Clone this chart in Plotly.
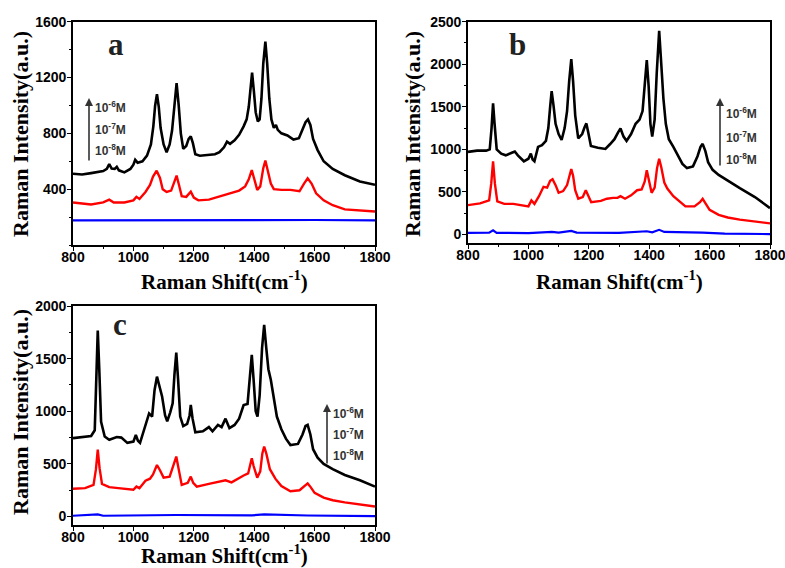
import plotly.graph_objects as go

# ---------------- data ----------------
A_BLACK_X = [800, 830, 860, 900, 912, 920, 928, 938, 945, 952, 970, 990, 1000, 1006, 1014, 1030, 1045, 1058, 1066, 1072, 1078, 1084, 1090, 1100, 1110, 1120, 1128, 1135, 1143, 1150, 1157, 1165, 1175, 1183, 1190, 1197, 1205, 1220, 1250, 1270, 1285, 1300, 1310, 1320, 1335, 1350, 1365, 1375, 1382, 1388, 1393, 1399, 1405, 1412, 1418, 1424, 1430, 1437, 1443, 1450, 1457, 1465, 1472, 1478, 1490, 1510, 1530, 1548, 1560, 1570, 1578, 1586, 1595, 1610, 1630, 1660, 1700, 1750, 1800]
A_BLACK_Y = [510, 505, 515, 530, 545, 580, 548, 545, 560, 535, 520, 545, 575, 610, 590, 600, 640, 720, 850, 1000, 1080, 990, 840, 720, 665, 720, 820, 1000, 1160, 1000, 800, 690, 710, 760, 778, 730, 650, 640, 645, 650, 665, 700, 740, 725, 750, 790, 850, 900, 990, 1150, 1235, 1100, 950, 885, 900, 1050, 1300, 1457, 1300, 1050, 900, 840, 860, 825, 800, 785, 755, 765, 830, 880, 900, 860, 760, 680, 600, 545, 500, 455, 432]

A_RED_X = [800, 830, 860, 900, 920, 935, 970, 1000, 1010, 1020, 1040, 1055, 1065, 1077, 1088, 1097, 1110, 1125, 1135, 1143, 1151, 1160, 1175, 1190, 1200, 1215, 1250, 1290, 1320, 1350, 1370, 1382, 1392, 1400, 1410, 1420, 1430, 1437, 1445, 1455, 1465, 1490, 1520, 1550, 1565, 1577, 1590, 1605, 1630, 1660, 1700, 1750, 1800]
A_RED_Y = [305, 300, 290, 305, 325, 305, 305, 320, 345, 330, 380, 430, 490, 532, 480, 400, 380, 390, 450, 497, 430, 350, 345, 382, 340, 320, 325, 350, 370, 390, 420, 470, 537, 470, 395, 420, 550, 605, 540, 440, 400, 395, 395, 385, 440, 478, 440, 370, 320, 285, 255, 245, 240]

A_BLUE_X = [800, 1000, 1200, 1437, 1600, 1800]
A_BLUE_Y = [177, 178, 178, 181, 179, 177]

B_BLACK_X = [800, 830, 860, 872, 878, 883, 888, 895, 910, 925, 945, 955, 965, 985, 1000, 1008, 1014, 1020, 1032, 1045, 1058, 1066, 1072, 1077, 1083, 1090, 1100, 1110, 1120, 1128, 1135, 1142, 1148, 1155, 1165, 1178, 1186, 1192, 1198, 1207, 1230, 1255, 1270, 1285, 1297, 1305, 1315, 1325, 1340, 1355, 1368, 1378, 1385, 1392, 1398, 1404, 1410, 1418, 1425, 1433, 1440, 1447, 1455, 1465, 1480, 1495, 1510, 1525, 1545, 1560, 1570, 1577, 1586, 1595, 1610, 1630, 1660, 1700, 1750, 1800]
B_BLACK_Y = [970, 985, 985, 1000, 1250, 1540, 1300, 1000, 950, 930, 960, 975, 930, 860, 890, 950, 880, 860, 1030, 1050, 1100, 1250, 1500, 1685, 1520, 1300, 1180, 1110, 1250, 1450, 1800, 2060, 1800, 1400, 1130, 1180, 1260, 1305, 1200, 1040, 1020, 1005, 1060, 1120, 1200, 1245, 1150, 1100, 1180, 1300, 1350, 1450, 1750, 2050, 1750, 1300, 1150, 1350, 1900, 2394, 2000, 1600, 1300, 1120, 1030, 920, 830, 780, 800, 920, 1030, 1065, 980, 850, 760, 700, 630, 545, 440, 310]

B_RED_X = [800, 840, 870, 877, 883, 889, 897, 920, 950, 980, 1000, 1010, 1020, 1035, 1050, 1062, 1072, 1080, 1090, 1100, 1115, 1128, 1136, 1142, 1148, 1155, 1165, 1180, 1190, 1198, 1208, 1240, 1260, 1280, 1295, 1305, 1320, 1340, 1360, 1375, 1385, 1392, 1398, 1408, 1418, 1426, 1433, 1440, 1450, 1460, 1480, 1500, 1520, 1550, 1568, 1577, 1587, 1600, 1630, 1660, 1700, 1750, 1800]
B_RED_Y = [345, 365, 400, 600, 860, 600, 390, 360, 360, 340, 330, 400, 360, 450, 560, 550, 630, 650, 580, 490, 510, 580, 700, 770, 690, 520, 420, 440, 520, 450, 380, 395, 420, 430, 430, 450, 420, 460, 520, 530, 620, 755, 640, 490, 550, 780, 890, 790, 610, 540, 450, 390, 330, 330, 380, 420, 370, 290, 230, 200, 175, 155, 130]

B_BLUE_X = [800, 870, 883, 895, 1000, 1078, 1100, 1142, 1160, 1300, 1392, 1410, 1433, 1450, 1577, 1650, 1800]
B_BLUE_Y = [18, 22, 50, 20, 15, 30, 22, 42, 22, 20, 38, 25, 55, 30, 22, 10, 5]

C_BLACK_X = [800, 830, 860, 872, 877, 882, 887, 893, 905, 920, 945, 960, 980, 1000, 1008, 1015, 1022, 1035, 1045, 1052, 1062, 1070, 1078, 1086, 1095, 1105, 1112, 1122, 1130, 1136, 1142, 1148, 1155, 1165, 1178, 1186, 1190, 1196, 1205, 1230, 1250, 1262, 1280, 1292, 1305, 1318, 1335, 1350, 1365, 1378, 1386, 1392, 1398, 1405, 1411, 1418, 1426, 1433, 1440, 1447, 1455, 1463, 1475, 1490, 1505, 1520, 1545, 1560, 1570, 1577, 1586, 1595, 1610, 1630, 1660, 1700, 1750, 1800]
C_BLACK_Y = [745, 755, 765, 820, 1300, 1766, 1400, 900, 760, 730, 755, 750, 700, 712, 775, 720, 700, 820, 900, 980, 950, 1200, 1329, 1250, 1140, 960, 905, 990, 1076, 1350, 1557, 1300, 950, 860, 880, 960, 1060, 930, 800, 810, 850, 810, 870, 850, 930, 840, 870, 930, 1060, 1070, 1300, 1535, 1300, 1000, 950, 1150, 1600, 1820, 1600, 1400, 1300, 1150, 950, 830, 740, 680, 690, 780, 860, 870, 780, 640, 560, 500, 450, 395, 345, 285]

C_RED_X = [800, 840, 868, 876, 882, 888, 896, 920, 950, 980, 1000, 1010, 1020, 1040, 1055, 1065, 1078, 1088, 1100, 1120, 1132, 1142, 1150, 1160, 1180, 1190, 1198, 1210, 1250, 1280, 1305, 1325, 1345, 1365, 1380, 1387, 1392, 1398, 1410, 1420, 1427, 1433, 1440, 1452, 1470, 1490, 1520, 1550, 1568, 1577, 1587, 1600, 1630, 1660, 1700, 1750, 1800]
C_RED_Y = [265, 270, 300, 450, 635, 460, 310, 280, 270, 265, 255, 285, 270, 340, 360, 400, 490, 440, 370, 380, 480, 570, 450, 300, 320, 380, 320, 285, 310, 330, 345, 325, 360, 390, 410, 500, 554, 480, 370, 430, 600, 665, 600, 450, 360, 290, 240, 250, 290, 315, 280, 225, 180, 155, 135, 115, 95]

C_BLUE_X = [800, 882, 900, 1078, 1142, 1392, 1433, 1577, 1800]
C_BLUE_Y = [8, 20, 8, 12, 15, 12, 20, 10, 5]

PANELS = [
    ("a", A_BLACK_X, A_BLACK_Y, A_RED_X, A_RED_Y, A_BLUE_X, A_BLUE_Y),
    ("b", B_BLACK_X, B_BLACK_Y, B_RED_X, B_RED_Y, B_BLUE_X, B_BLUE_Y),
    ("c", C_BLACK_X, C_BLACK_Y, C_RED_X, C_RED_Y, C_BLUE_X, C_BLUE_Y),
]
X_TICKS = [800, 1000, 1200, 1400, 1600, 1800]
Y_TICKS = {"a": [400, 800, 1200, 1600], "b": [0, 500, 1000, 1500, 2000, 2500], "c": [0, 500, 1000, 1500, 2000]}
Y_RANGE = {"a": [0, 1600], "b": [-100, 2500], "c": [-80, 2000]}
Y_MINOR = {"a": 200, "b": 250, "c": 250}
CONC = ["10<sup>-6</sup>M", "10<sup>-7</sup>M", "10<sup>-8</sup>M"]
X_TITLE = "Raman Shift(cm<sup>-1</sup>)"
Y_TITLE = "Raman Intensity(a.u.)"

# ---------------- layout geometry (pixels) ----------------
W, H = 785, 568
def px(x): return x / W
def py(y): return 1 - y / H

GEOM = {
    "a": dict(x0=73, x1=375, y0=21.7, y1=245),
    "b": dict(x0=468, x1=770, y0=21.7, y1=243),
    "c": dict(x0=73, x1=375, y0=306, y1=525),
}
LETTER_POS = {"a": (116, 45), "b": (517, 44), "c": (120, 324)}
ARROW = {"a": (89, 98, 162, [107, 129, 150]),
         "b": (720, 98, 167, [113, 137, 159]),
         "c": (327, 404, 465, [413, 434, 455])}
XTITLE_POS = {"a": (224, 280), "b": (619, 280), "c": (224, 554)}
YTITLE_POS = {"a": (20, 134), "b": (412, 134), "c": (20, 412)}

fig = go.Figure()
layout = dict(width=W, height=H, margin=dict(l=0, r=0, t=0, b=0, autoexpand=False),
              paper_bgcolor="white", plot_bgcolor="white", showlegend=False)
annotations = []

tickfont = dict(family="Liberation Sans", size=14, color="black", weight="bold")
titlefont = dict(family="Liberation Serif", size=21, color="black", weight="bold")

for i, (name, bx, by, rx, ry, ux, uy) in enumerate(PANELS):
    sfx = "" if i == 0 else str(i + 1)
    xa, ya = "x" + sfx, "y" + sfx
    for xs, ys, col, w in [(ux, uy, "#0000ff", 2.2), (rx, ry, "#ff0000", 2.4), (bx, by, "#000000", 2.6)]:
        fig.add_trace(go.Scatter(x=xs, y=ys, mode="lines", line=dict(color=col, width=w),
                                 xaxis=xa, yaxis=ya, hoverinfo="skip"))
    g = GEOM[name]
    layout["xaxis" + sfx] = dict(
        domain=[px(g["x0"]), px(g["x1"])], anchor=ya, range=[800, 1800], automargin=False,
        tickvals=X_TICKS, ticks="outside", ticklen=4, tickwidth=1.3, tickcolor="black",
        minor=dict(dtick=100, ticks="outside", ticklen=2.5, tickwidth=1, tickcolor="black"),
        showline=True, linecolor="black", linewidth=1.6, mirror=True,
        ticklabeloverflow="allow", ticklabelstandoff=-6,
        showgrid=False, zeroline=False, tickfont=tickfont)
    layout["yaxis" + sfx] = dict(
        domain=[py(g["y1"]), py(g["y0"])], anchor=xa, range=Y_RANGE[name], automargin=False,
        tickvals=Y_TICKS[name], ticks="outside", ticklen=4, tickwidth=1.3, tickcolor="black",
        minor=dict(dtick=Y_MINOR[name], ticks="outside", ticklen=2.5, tickwidth=1, tickcolor="black"),
        showline=True, linecolor="black", linewidth=1.6, mirror=True,
        ticklabeloverflow="allow", ticklabelstandoff=-2,
        showgrid=False, zeroline=False, tickfont=tickfont)
    tx, ty = XTITLE_POS[name]
    annotations.append(dict(text=X_TITLE, x=px(tx), y=py(ty), xref="paper", yref="paper",
                            showarrow=False, xanchor="center", yanchor="middle", font=titlefont))
    tx, ty = YTITLE_POS[name]
    annotations.append(dict(text=Y_TITLE, x=px(tx), y=py(ty), xref="paper", yref="paper",
                            showarrow=False, xanchor="center", yanchor="middle", textangle=-90,
                            font=dict(titlefont, size=22)))
    lx, ly = LETTER_POS[name]
    annotations.append(dict(text=name, x=px(lx), y=py(ly), xref="paper", yref="paper",
                            showarrow=False, xanchor="center", yanchor="middle",
                            font=dict(family="Liberation Serif", size=31, color="#222", weight="bold")))
    ax_, atop, abot, labys = ARROW[name]
    annotations.append(dict(text="", x=px(ax_), y=py(atop), xref="paper", yref="paper",
                            ax=0, ay=abot - atop, showarrow=True, arrowhead=2, arrowsize=1,
                            arrowwidth=1.6, arrowcolor="#333"))
    for t, yy in zip(CONC, labys):
        annotations.append(dict(text=t, x=px(ax_ + 4), y=py(yy), xref="paper", yref="paper",
                                showarrow=False, xanchor="left", yanchor="middle",
                                font=dict(family="Liberation Sans", size=12, color="#333", weight="bold")))

layout["annotations"] = annotations
fig.update_layout(**layout)
fig.write_html("out.html")
